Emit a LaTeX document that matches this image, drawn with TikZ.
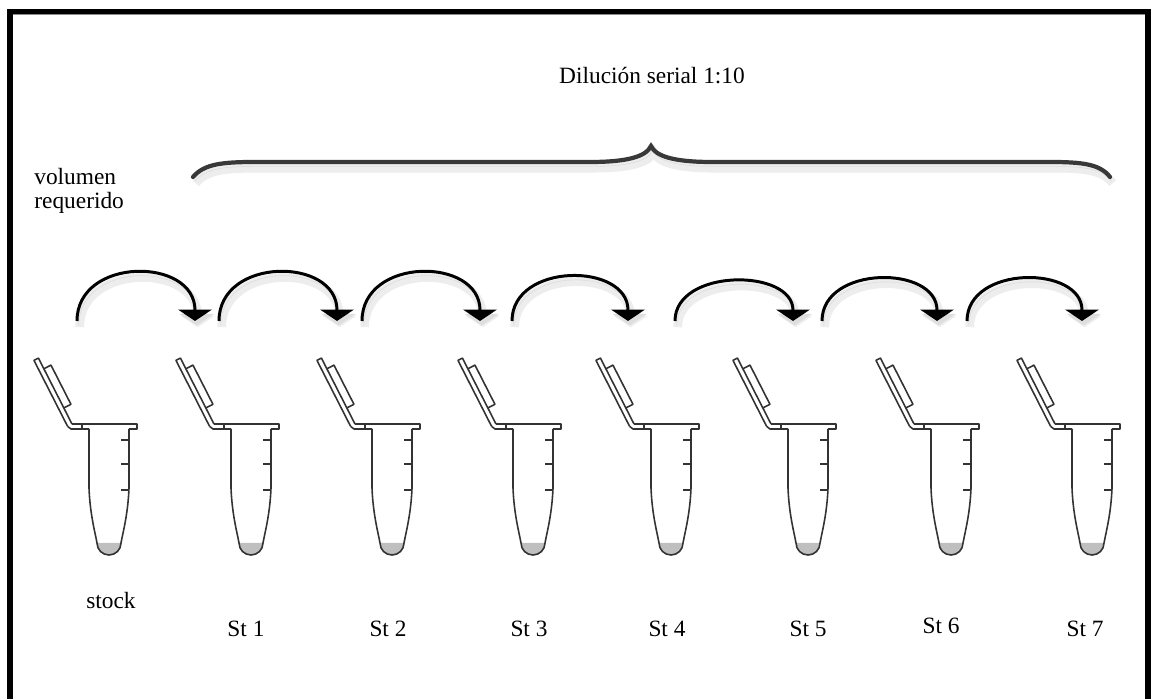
\documentclass[tikz,border=0pt]{standalone}
\usepackage{fontspec}
\setmainfont{Liberation Serif}
\usetikzlibrary{arrows.meta}
\tikzset{>={Triangle[width=19pt, length=6.5pt]}, % wide flat heads on the transfer arrows
every node/.style={font=\fontsize{13.3}{14}\selectfont, inner sep=0pt}, % plain serif labels
tube line/.style={draw=black!80, line width=0.9pt, line join=round}, % outline of a tube
liquid/.style={fill=black!25}, % the drop left in each tube
soft shadow/.style={preaction={draw=black!7, line width=5pt, transform canvas={shift={(1.5pt,-3.5pt)}}},
  preaction={draw=black!13, transform canvas={shift={(1pt,-2.5pt)}}}}, % grey shade under a stroke
transfer/.style={->, line width=1.7pt, soft shadow}, % one step of the dilution
brace/.style={draw=black!78, line width=2.4pt, line cap=round, soft shadow},
tube/.pic={
  % lid, tipped back on its hinge
  \begin{scope}[shift={(-37,0)}, rotate=27]
    \draw[tube line] (0,0) -- (0,74) -- (-5,74) -- (-5,0);
    \draw[tube line] (0,18) -- (8,18) -- (8,62) -- (0,62);
  \end{scope}
  \draw[tube line] (-41.5,-2.3) -- (-38,-5) -- (-20,-5);
  % rim
  \draw[tube line] (-37,0) -- (28,0) -- (28,-5) -- (20,-5);
  \draw[tube line] (-27,0) -- (-27,-5);
  % body
  \fill[liquid] (-12,-119) arc[start angle=180, end angle=360, radius=12] -- cycle;
  \draw[tube line] (-20,-5) -- (-20,-64) .. controls (-19,-90) and (-14,-108) .. (-12,-119)
    arc[start angle=180, end angle=360, radius=12] .. controls (14,-108) and (19,-90) .. (20,-64) -- (20,-5);
  % marks
  \draw[tube line] (12,-16) -- (20,-16);
  \draw[tube line] (12,-40) -- (20,-40);
  \draw[tube line] (12,-66) -- (19.5,-66);
},
}

\begin{document}
\begin{tikzpicture}[x=0.02cm, y=0.02cm]
    \useasboundingbox (0,0) rectangle (1151,699);
    % frame
    \fill (7,0) rectangle (13,690);
    \fill (7,684.5) rectangle (1151,690);
    \fill (1145,0) rectangle (1151,690);
    \draw[black!45, line width=0.6pt] (13,684.2) -- (1145,684.2);

    \node[anchor=base] (title) at (652,615) {Dilución serial 1:10};
    \node[anchor=base west, align=left] (vol) at (34,490) {volumen\\requerido};

    \draw[brace] (193,522) .. controls (204,535) and (222,537) .. (255,537) -- (590,537)
      .. controls (626,537) and (646,542) .. (651,553)
      .. controls (656,542) and (676,537) .. (712,537) -- (1050,537)
      .. controls (1082,537) and (1100,535) .. (1110,522);

    \pic (t0) at (109,275) {tube};
    \pic (t1) at (251,275) {tube};
    \pic (t2) at (392,275) {tube};
    \pic (t3) at (533,275) {tube};
    \pic (t4) at (671,275) {tube};
    \pic (t5) at (808,275) {tube};
    \pic (t6) at (951,275) {tube};
    \pic (t7) at (1092,275) {tube};

    \node[anchor=base] (l0) at (111,91) {stock};
    \node[anchor=base] (l1) at (246,63) {St 1};
    \node[anchor=base] (l2) at (388,63) {St 2};
    \node[anchor=base] (l3) at (529,63) {St 3};
    \node[anchor=base] (l4) at (667,63) {St 4};
    \node[anchor=base] (l5) at (808,63) {St 5};
    \node[anchor=base] (l6) at (941,66) {St 6};
    \node[anchor=base] (l7) at (1085,63) {St 7};

    \coordinate (p0) at (77,378);   \coordinate (d1) at (195,378);
    \coordinate (p1) at (219,378);  \coordinate (d2) at (337,378);
    \coordinate (p2) at (362,378);  \coordinate (d3) at (480,378);
    \coordinate (p3) at (512,378);  \coordinate (d4) at (628,378);
    \coordinate (p4) at (675,378);  \coordinate (d5) at (793,378);
    \coordinate (p5) at (822,378);  \coordinate (d6) at (937,378);
    \coordinate (p6) at (967,378);  \coordinate (d7) at (1082,378);
    \draw[transfer] (p0) to[out=90, in=90, looseness=1.4] (d1);
    \draw[transfer] (p1) to[out=90, in=90, looseness=1.4] (d2);
    \draw[transfer] (p2) to[out=90, in=90, looseness=1.4] (d3);
    \draw[transfer] (p3) to[out=90, in=90, looseness=1.3] (d4);
    \draw[transfer] (p4) to[out=90, in=90, looseness=1.15] (d5);
    \draw[transfer] (p5) to[out=90, in=90, looseness=1.25] (d6);
    \draw[transfer] (p6) to[out=90, in=90, looseness=1.25] (d7);
  \end{tikzpicture}
\end{document}
